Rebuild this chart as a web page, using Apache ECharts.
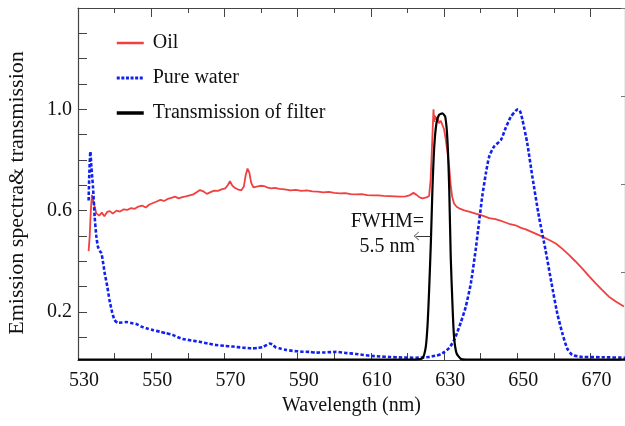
<!DOCTYPE html>
<html>
<head>
<meta charset="utf-8">
<script src="https://cdn.jsdelivr.net/npm/echarts@6/dist/echarts.min.js"></script>
<style>
  html, body { margin: 0; padding: 0; background: #fff; }
  #chart { width: 625px; height: 426px; }
</style>
</head>
<body>
<div id="chart"></div>
<script>
// Emission spectra of oil and pure water, with the band-pass filter transmission.
const seriesNames = ['Oil', 'Pure water', 'Transmission of filter'];

// [wavelength (nm), normalised intensity]
const oilSpectrum = [
  [532.9,0.44],[533.2,0.5],[533.5,0.6],[533.8,0.662],[534.3,0.63],[535.0,0.589],[535.8,0.58],
  [536.5,0.592],[537.2,0.578],[538.0,0.595],[538.7,0.598],[539.5,0.588],[540.5,0.6],[541.5,0.596],
  [542.5,0.605],[543.5,0.603],[544.5,0.61],[545.5,0.607],[546.5,0.616],[547.5,0.62],[548.5,0.612],
  [549.5,0.624],[550.5,0.63],[551.5,0.636],[552.5,0.642],[553.5,0.638],[554.5,0.646],[555.5,0.65],
  [556.5,0.655],[557.5,0.648],[558.5,0.653],[559.5,0.656],[560.5,0.66],[561.5,0.664],[562.5,0.673],
  [563.3,0.681],[564.2,0.676],[565.2,0.666],[566.2,0.673],[567.2,0.679],[568.2,0.678],[569.2,0.684],
  [570.2,0.688],[570.9,0.7],[571.5,0.716],[572.1,0.7],[572.8,0.69],[573.6,0.684],[574.6,0.68],
  [575.3,0.695],[575.8,0.74],[576.3,0.766],[576.8,0.75],[577.3,0.71],[577.9,0.692],[578.8,0.695],
  [579.8,0.698],[580.8,0.697],[581.8,0.691],[582.8,0.688],[583.8,0.69],[585,0.686],[586.5,0.684],
  [588,0.68],[589.5,0.682],[591,0.678],[592.5,0.68],[594,0.676],[595.5,0.675],[597,0.672],
  [598.5,0.674],[600,0.67],[601.5,0.668],[603,0.669],[604.5,0.665],[606,0.664],[607.5,0.665],
  [609,0.661],[610.5,0.66],[612,0.66],[613.5,0.658],[615,0.657],[616.5,0.656],[618,0.655],
  [619.5,0.656],[620.5,0.66],[621.6,0.67],[622.4,0.663],[623.3,0.652],[624.1,0.648],[625.2,0.652],
  [625.9,0.658],[626.3,0.72],[626.6,0.82],[626.9,0.93],[627.1,1.0],[627.3,0.95],[627.5,0.975],
  [627.8,0.96],[628.2,0.97],[628.6,0.945],[629.1,0.955],[629.5,0.948],[630.0,0.92],[630.5,0.875],
  [631.0,0.82],[631.4,0.77],[631.8,0.7],[632.2,0.655],[632.7,0.628],[633.4,0.615],[634.1,0.609],
  [635.5,0.601],[636.8,0.596],[638.6,0.588],[640.5,0.58],[642.3,0.57],[644,0.566],[645.8,0.558],
  [647.7,0.548],[649.5,0.542],[651,0.532],[652.3,0.526],[654.5,0.512],[656.8,0.497],[658.7,0.484],
  [660.5,0.47],[662.3,0.449],[664.1,0.425],[665.9,0.399],[667.7,0.372],[669.5,0.342],[671.4,0.313],
  [673.2,0.286],[675.0,0.26],[677,0.24],[679.1,0.221]
];

const waterSpectrum = [
  [532.9,0.64],[533.1,0.75],[533.38,0.833],[533.65,0.773],[534.09,0.694],[534.55,0.576],[535.0,0.5],
  [535.45,0.457],[536.0,0.44],[536.4,0.431],[536.9,0.39],[537.3,0.352],[538.0,0.3],[538.6,0.247],
  [539.3,0.2],[540.0,0.168],[540.9,0.157],[542,0.158],[543.2,0.16],[544.5,0.156],[545.9,0.152],
  [547.3,0.142],[548.65,0.135],[550.5,0.128],[552.3,0.122],[554,0.116],[555.9,0.109],[557.3,0.1],
  [558.6,0.093],[561,0.087],[563.2,0.082],[565.5,0.075],[567.7,0.069],[570,0.066],[572.3,0.063],
  [575,0.059],[577.7,0.056],[579.2,0.058],[580.4,0.061],[581.6,0.07],[582.4,0.075],[583.2,0.07],
  [584,0.06],[585,0.056],[586.8,0.05],[588.6,0.046],[591,0.043],[593.2,0.042],[595,0.039],
  [597.5,0.04],[600.5,0.042],[603,0.038],[605.9,0.034],[608,0.03],[610.4,0.026],[612.5,0.024],
  [615,0.022],[618.5,0.02],[622.3,0.019],[625.9,0.022],[628,0.028],[629.5,0.036],[631.4,0.058],
  [632.7,0.088],[633.6,0.12],[634.6,0.16],[635.9,0.22],[637.3,0.313],[638.6,0.444],[639.5,0.55],
  [640.4,0.655],[641.4,0.747],[642.3,0.813],[643.6,0.852],[645.5,0.879],[646.8,0.926],[648.2,0.97],
  [649.6,0.995],[650.2,1.0],[650.8,0.99],[651.4,0.958],[652.7,0.866],[654.1,0.734],[655.9,0.576],
  [657.7,0.444],[659.5,0.3],[660.9,0.194],[662.3,0.115],[663.6,0.056],[665.0,0.03],[667.7,0.022],
  [673.2,0.021],[679.4,0.019]
];

const filterTransmission = [
  [530,0.012],[622.5,0.012],[624.1,0.017],[625.0,0.063],[625.5,0.155],[625.9,0.286],[626.4,0.484],
  [626.8,0.681],[627.3,0.852],[627.9,0.945],[628.6,0.978],[629.5,0.984],[630.3,0.971],[630.9,0.879],
  [631.4,0.681],[631.8,0.418],[632.3,0.22],[632.7,0.102],[633.4,0.036],[634.6,0.014],[636,0.012],
  [679.4,0.012]
];

// Axis ticks and labels
const xLabelValues = [530, 550, 570, 590, 610, 630, 650, 670];
const xMinorTicks = [540, 560, 580, 600, 620, 640, 660];
const xAllTicks = [540, 550, 560, 570, 580, 590, 600, 610, 620, 630, 640, 650, 660, 670];
const xTopMajor = [550, 570, 590, 610, 630, 650, 670];
const yLabelValues = [0.2, 0.6, 1.0];
const yTicks = [0.1, 0.2, 0.3, 0.4, 0.5, 0.6, 0.7, 0.8, 0.9, 1.0, 1.1, 1.2, 1.3];

// FWHM annotation
const fwhmText = 'FWHM=\n5.5 nm';
const fwhmTextAt = [614.5, 0.507];
const fwhmArrow = [[626.3, 0.5], [622.4, 0.5]];

const FONT = 'Liberation Serif';
const INK = '#111';
const AXIS = '#444';
const RED = '#f04040';
const BLUE = '#1020f0';

const chart = echarts.init(document.getElementById('chart'), null, { renderer: 'canvas' });

const baseX = {
  type: 'value', min: 530, max: 679.4,
  splitLine: { show: false },
  axisLine: { show: true, lineStyle: { color: AXIS, width: 1.2 } }
};

chart.setOption({
  animation: false,
  backgroundColor: '#fff',
  textStyle: { fontFamily: FONT },
  grid: { left: 78, top: 8, width: 548, height: 352 },
  legend: {
    show: true,
    orient: 'vertical', left: 110, top: 28,
    itemWidth: 27, itemHeight: 20, itemGap: 15,
    itemStyle: { opacity: 0 },
    textStyle: { fontFamily: FONT, fontSize: 20, color: INK, padding: [0, 0, 0, 4] },
    data: [
      { name: seriesNames[0], lineStyle: { color: RED, width: 2.5 } },
      { name: seriesNames[1], lineStyle: { color: BLUE, width: 3, type: [3, 1.6] } },
      { name: seriesNames[2], lineStyle: { color: '#000', width: 3.5 } }
    ]
  },
  xAxis: [
    Object.assign({}, baseX, {
      position: 'bottom',
      name: 'Wavelength (nm)', nameLocation: 'middle', nameGap: 34,
      nameTextStyle: { fontFamily: FONT, fontSize: 20, color: INK },
      axisTick: { show: true, inside: true, length: 7, lineStyle: { color: AXIS }, customValues: xAllTicks },
      axisLabel: {
        show: true, customValues: xLabelValues, margin: 11,
        fontFamily: FONT, fontSize: 20, color: INK, padding: [0, 0, 0, 12]
      }
    }),
    Object.assign({}, baseX, {
      position: 'top',
      axisTick: { show: true, inside: true, length: 9, lineStyle: { color: AXIS }, customValues: xTopMajor },
      axisLabel: { show: false }
    }),
    Object.assign({}, baseX, {
      position: 'top',
      axisLine: { show: false },
      axisTick: { show: true, inside: true, length: 5, lineStyle: { color: AXIS }, customValues: xMinorTicks },
      axisLabel: { show: false }
    })
  ],
  yAxis: [
    {
      type: 'value', min: 0.01, max: 1.4, position: 'left',
      splitLine: { show: false },
      axisLine: { show: true, lineStyle: { color: AXIS, width: 1.2 } },
      axisTick: { show: true, inside: true, length: 9, lineStyle: { color: AXIS }, customValues: yTicks },
      axisLabel: {
        show: true, customValues: yLabelValues, margin: 6,
        fontFamily: FONT, fontSize: 20, color: INK,
        formatter: v => v.toFixed(1)
      }
    },
    {
      type: 'value', min: 0, max: 4, interval: 1, position: 'right',
      splitLine: { show: false },
      axisLine: { show: true, lineStyle: { color: AXIS, width: 1.2 } },
      axisTick: { show: true, inside: true, length: 4, lineStyle: { color: '#777' } },
      axisLabel: { show: false }
    }
  ],
  graphic: [
    {
      type: 'text', x: 17, y: 193, rotation: Math.PI / 2,
      style: {
        text: 'Emission spectra& transmission',
        font: '22px "Liberation Serif"', fill: INK,
        textAlign: 'center', textVerticalAlign: 'middle'
      }
    }
  ],
  series: [
    {
      name: seriesNames[0], type: 'line', data: oilSpectrum,
      showSymbol: false, symbol: 'none', z: 2,
      lineStyle: { color: RED, width: 1.8 },
      itemStyle: { color: RED }
    },
    {
      name: seriesNames[1], type: 'line', data: waterSpectrum,
      showSymbol: false, symbol: 'none', smooth: 0.2, z: 3,
      lineStyle: { color: BLUE, width: 2.6, type: [3.5, 2] },
      itemStyle: { color: BLUE }
    },
    {
      name: seriesNames[2], type: 'line', data: filterTransmission,
      showSymbol: false, symbol: 'none', smooth: 0.2, z: 4,
      lineStyle: { color: '#000', width: 2.2 },
      itemStyle: { color: '#000' },
      markLine: {
        silent: true, animation: false,
        symbol: ['none', 'path://M0,10 L5,0 L10,10 L9,10 L5,2 L1,10 Z'],
        symbolSize: [9, 5],
        label: { show: false },
        lineStyle: { color: '#333', width: 1, type: 'solid' },
        data: [[{ coord: fwhmArrow[0] }, { coord: fwhmArrow[1] }]]
      },
      markPoint: {
        silent: true, animation: false,
        symbol: 'circle', symbolSize: 0,
        data: [{ coord: fwhmTextAt }],
        label: {
          show: true, position: 'inside', formatter: fwhmText,
          fontFamily: FONT, fontSize: 20, lineHeight: 25, color: INK, align: 'center'
        }
      }
    }
  ]
});
</script>
</body>
</html>
